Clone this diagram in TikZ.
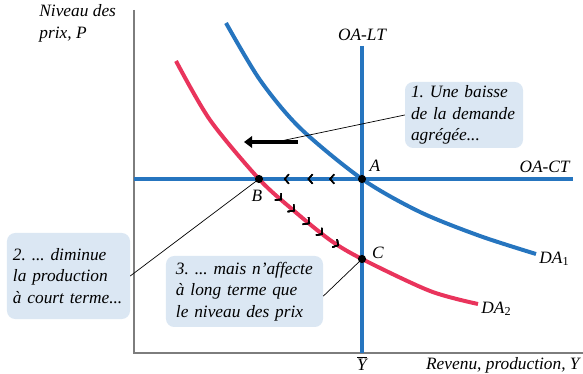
\documentclass[tikz,border=0pt]{standalone}
\usepackage{fontspec}
\setmainfont{Liberation Serif}
\usetikzlibrary{positioning,calc}
\usetikzlibrary{arrows.meta,decorations.markings}
\definecolor{CurveBlue}{RGB}{38,117,191}
\definecolor{CurveRed}{RGB}{233,52,92}
\definecolor{NoteBlue}{RGB}{219,231,243}
\definecolor{AxisGray}{RGB}{125,125,125}
\frenchspacing
\tikzset{
  axis/.style={draw=AxisGray,line width=1.3pt},
  curve/.style={draw=CurveBlue,line width=3.4pt},
  newcurve/.style={draw=CurveRed,line width=3.4pt},
  eq/.style={circle,fill=black,inner sep=0pt,minimum size=7pt},
  lbl/.style={font=\itshape\fontsize{14.8}{18.5}\selectfont,inner sep=1pt},
  note/.style={fill=NoteBlue,rounded corners=7pt,align=left,
    font=\itshape\fontsize{14.8}{18.5}\selectfont,inner xsep=0.18cm,inner ysep=0pt},
  leader/.style={draw=black,line width=0.6pt},
  chevrons/.style={decoration={markings,
    mark=at position #1 with {\draw[black,line width=1.2pt] (-3.5pt,-4pt) -- (0,0) -- (-3.5pt,4pt);}},
    postaction=decorate},
}

\begin{document}
\begin{tikzpicture}[x=0.03cm,y=-0.03cm]
\useasboundingbox (0,0) rectangle (583,374);
% axes
\coordinate (O) at (134,353);
\coordinate (Ptop) at (134,10);
\coordinate (Yend) at (583,353);
\draw[axis] (Ptop) -- (O) -- (Yend);
% equilibria
\coordinate (A) at (362,179);
\coordinate (B) at (259,179);
\coordinate (C) at (362,259);
% supply
\draw[curve] (134,179) -- (573,179);
\draw[curve] (362,46) -- (362,353);
% demand
\draw[curve] plot[smooth] coordinates {(226,23) (260,80) (300,128) (A) (420,212) (480,236) (536,254)};
\draw[newcurve] plot[smooth] coordinates {(176,61) (210,120) (B) (293,210) (330,240) (C) (430,291) (478,304)};
% chevrons
\path[chevrons=0.31,chevrons=0.52,chevrons=0.75] (A) -- (B);
\path[chevrons=0.23,chevrons=0.36,chevrons=0.51,chevrons=0.64,chevrons=0.79]
  plot[smooth] coordinates {(B) (293,210) (330,240) (C)};
\node[eq] (eqA) at (A) {};
\node[eq] (eqB) at (B) {};
\node[eq] (eqC) at (C) {};
% shift arrow
\coordinate (shiftS) at (298,142);
\coordinate (shiftE) at (244,142);
\coordinate (shiftM) at (276,142);
\draw[line width=3.4pt,-{Triangle[length=7pt,width=10pt]}] (shiftS) -- (shiftE);
% notes
\node[note,text width=3.18cm,minimum height=1.98cm] (n1) at (464,115)
  {1. Une baisse\\de la demande\\agrégée...};
\node[note,text width=3.33cm,minimum height=2.58cm] (n2) at (68.5,276)
  {2. ... diminue\\la production\\à court terme...};
\node[note,inner xsep=0.3cm,text width=4.11cm,minimum height=2.13cm] (n3) at (244.5,291.5)
  {3. ... mais n’affecte\\à long terme que\\le niveau des prix};
\draw[leader] (n1.west) -- (shiftM);
\draw[leader] (n2.east) -- (eqB.center);
\draw[leader] ([yshift=-4]n3.east) -- (eqC.center);
% labels
\node[lbl,anchor=north west,align=left] (ylab) at (38,3) {Niveau des\\prix, \textit{P}};
\node[lbl,anchor=east] (xlab) at (581,365) {Revenu, production, \textit{Y}};
\node[lbl,anchor=north] (ybar) at (362,355) {$\overline{\mbox{\itshape Y}}$};
\node[lbl] (lt) at (362,35) {OA-LT};
\node[lbl,anchor=east] (ct) at (571,167) {OA-CT};
\node[lbl] (la) at (375,166) {A};
\node[lbl] (lb) at (257,196) {B};
\node[lbl] (lc) at (378,253) {C};
\node[lbl,anchor=west] (da1) at (538,259) {DA\textsubscript{\upshape 1}};
\node[lbl,anchor=west] (da2) at (480,309) {DA\textsubscript{\upshape 2}};
\end{tikzpicture}
\end{document}
